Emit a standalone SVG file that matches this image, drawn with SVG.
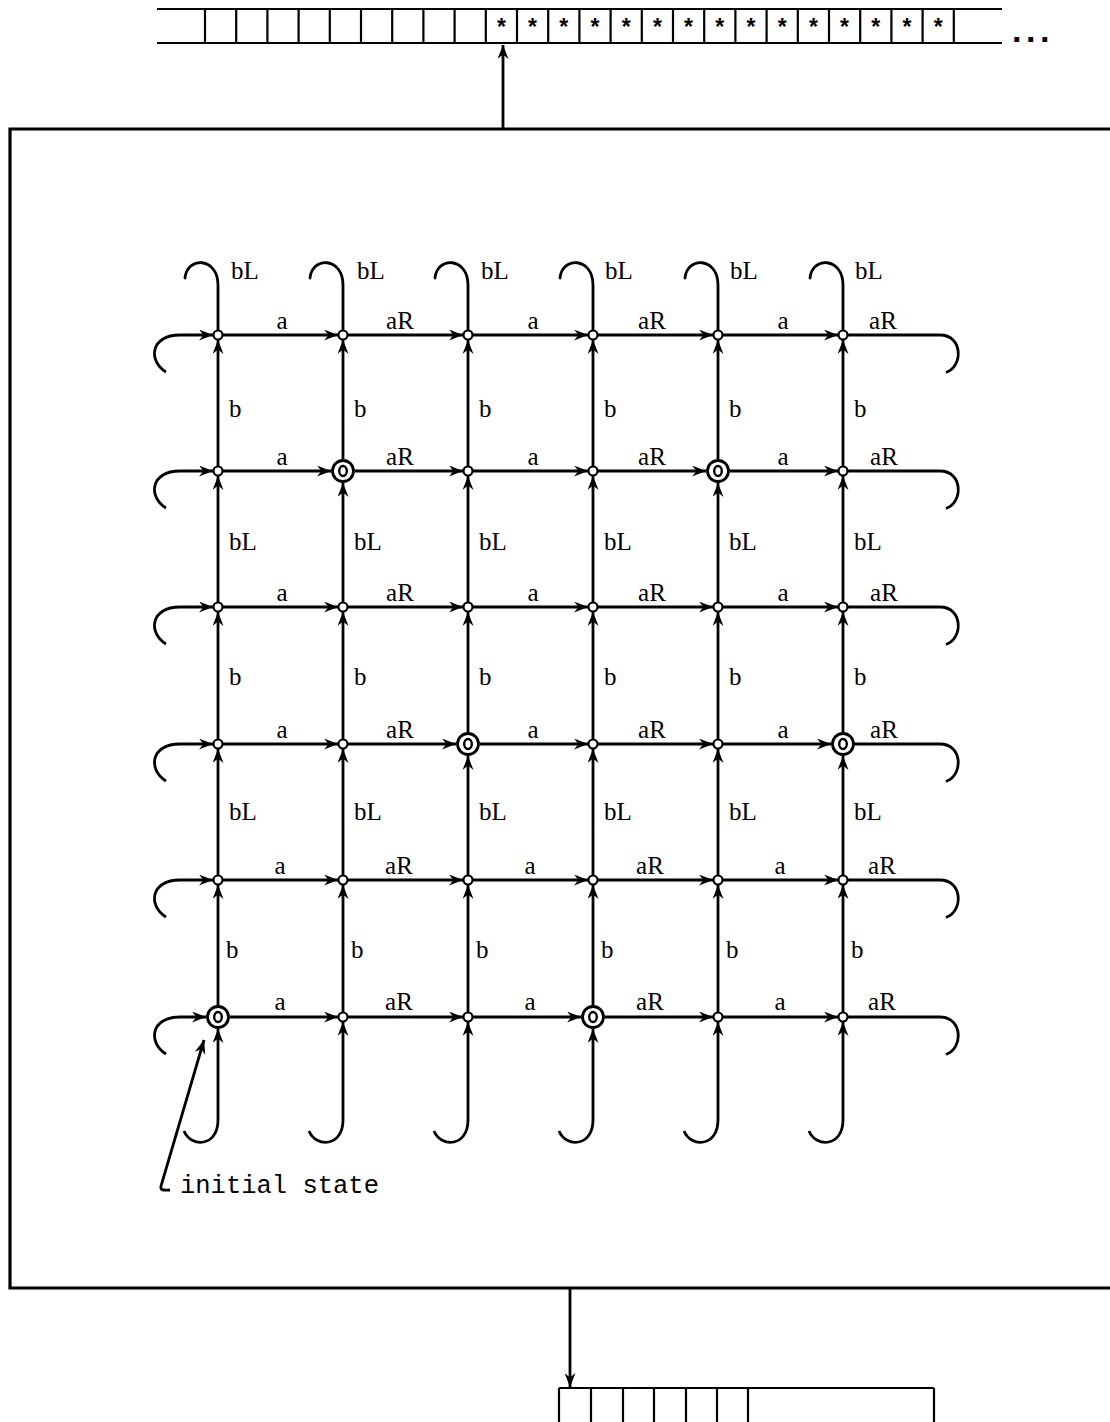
<svg xmlns="http://www.w3.org/2000/svg" width="1110" height="1422" viewBox="0 0 1110 1422">
<style>
.e{fill:none;stroke:#000;stroke-width:2.8;marker-end:url(#ah)}
.h{fill:none;stroke:#000;stroke-width:2.8;stroke-linecap:round}
.tp{fill:none;stroke:#000;stroke-width:2.2}
.n{fill:#fff;stroke:#000;stroke-width:2.2}
.d{fill:#fff;stroke:#000;stroke-width:2.8}
.di{fill:none;stroke:#000;stroke-width:2.4}
.lb{font-family:"Liberation Serif",serif;font-size:25px;fill:#000}
.st{font-family:"Liberation Sans",sans-serif;font-size:23px;font-weight:bold;fill:#000;text-anchor:middle}
.mono{font-family:"Liberation Mono",monospace;font-size:25.5px;fill:#000}
</style>
<defs>
<marker id="ah" viewBox="0 0 14 11" refX="14" refY="5.5" markerWidth="14" markerHeight="11" orient="auto" markerUnits="userSpaceOnUse">
<path d="M0,0 L14,5.5 L0,11 L4.5,5.5 z" fill="#000"/>
</marker>
</defs>

<!-- top tape -->
<g id="tape_top">
<path class="tp" d="M157,9 H1002 M157,43 H1002"/>
<path class="tp" d="M205,9V43 M236.2,9V43 M267.4,9V43 M298.6,9V43 M329.8,9V43 M361,9V43 M392.2,9V43 M423.4,9V43 M454.6,9V43 M485.8,9V43 M517,9V43 M548.2,9V43 M579.4,9V43 M610.6,9V43 M641.8,9V43 M673,9V43 M704.2,9V43 M735.4,9V43 M766.6,9V43 M797.8,9V43 M829,9V43 M860.2,9V43 M891.4,9V43 M922.6,9V43 M953.8,9V43"/>
<text class="st" x="501.4" y="35">*</text>
<text class="st" x="532.6" y="35">*</text>
<text class="st" x="563.8" y="35">*</text>
<text class="st" x="595" y="35">*</text>
<text class="st" x="626.2" y="35">*</text>
<text class="st" x="657.4" y="35">*</text>
<text class="st" x="688.6" y="35">*</text>
<text class="st" x="719.8" y="35">*</text>
<text class="st" x="751" y="35">*</text>
<text class="st" x="782.2" y="35">*</text>
<text class="st" x="813.4" y="35">*</text>
<text class="st" x="844.6" y="35">*</text>
<text class="st" x="875.8" y="35">*</text>
<text class="st" x="907" y="35">*</text>
<text class="st" x="938.2" y="35">*</text>
<text x="1012" y="42" style="font-family:'Liberation Sans',sans-serif;font-size:34px;font-weight:bold;letter-spacing:4.5px">...</text>
</g>

<!-- bottom tape -->
<g id="tape_bottom">
<path class="tp" d="M559,1388 H934 M559,1388V1422 M591,1388V1422 M623,1388V1422 M654,1388V1422 M686,1388V1422 M717,1388V1422 M748,1388V1422 M934,1388V1422"/>
</g>

<!-- control box -->
<g id="control_box">
<path d="M1110,129 H10 V1288 H1110" fill="none" stroke="#000" stroke-width="3.2"/>
</g>

<g id="connectors">
<!-- head arrows -->
<path class="e" d="M503,128 V45"/>
<path class="e" d="M570,1289 V1387"/>

<!-- horizontal edges -->
<path class="e" d="M223,335 H338"/><path class="e" d="M348,335 H463"/><path class="e" d="M473,335 H588"/><path class="e" d="M598,335 H713"/><path class="e" d="M723,335 H838"/>
<path class="e" d="M223,471 H331"/><path class="e" d="M355,471 H463"/><path class="e" d="M473,471 H588"/><path class="e" d="M598,471 H706"/><path class="e" d="M730,471 H838"/>
<path class="e" d="M223,607 H338"/><path class="e" d="M348,607 H463"/><path class="e" d="M473,607 H588"/><path class="e" d="M598,607 H713"/><path class="e" d="M723,607 H838"/>
<path class="e" d="M223,744 H338"/><path class="e" d="M348,744 H456"/><path class="e" d="M480,744 H588"/><path class="e" d="M598,744 H713"/><path class="e" d="M723,744 H831"/>
<path class="e" d="M223,880 H338"/><path class="e" d="M348,880 H463"/><path class="e" d="M473,880 H588"/><path class="e" d="M598,880 H713"/><path class="e" d="M723,880 H838"/>
<path class="e" d="M230,1017 H338"/><path class="e" d="M348,1017 H463"/><path class="e" d="M473,1017 H581"/><path class="e" d="M605,1017 H713"/><path class="e" d="M723,1017 H838"/>

<!-- left wrap hooks -->
<path class="e" d="M166,372 C148,361 150,335 180,335 H213"/>
<path class="e" d="M166,508 C148,497 150,471 180,471 H213"/>
<path class="e" d="M166,644 C148,633 150,607 180,607 H213"/>
<path class="e" d="M166,781 C148,770 150,744 180,744 H213"/>
<path class="e" d="M166,917 C148,906 150,880 180,880 H213"/>
<path class="e" d="M166,1054 C148,1043 150,1017 180,1017 H206"/>

<!-- right wrap hooks -->
<path class="h" d="M848,335 H940 C963,335 963,366 947,372"/>
<path class="h" d="M848,471 H940 C963,471 963,502 947,508"/>
<path class="h" d="M848,607 H940 C963,607 963,638 947,644"/>
<path class="h" d="M855,744 H940 C963,744 963,775 947,781"/>
<path class="h" d="M848,880 H940 C963,880 963,911 947,917"/>
<path class="h" d="M848,1017 H940 C963,1017 963,1048 947,1054"/>

<!-- vertical edges col1 -->
<path class="e" d="M218,466 V340"/><path class="e" d="M218,602 V476"/><path class="e" d="M218,739 V612"/><path class="e" d="M218,875 V749"/><path class="e" d="M218,1005 V885"/>
<!-- col2 -->
<path class="e" d="M343,459 V340"/><path class="e" d="M343,602 V483"/><path class="e" d="M343,739 V612"/><path class="e" d="M343,875 V749"/><path class="e" d="M343,1012 V885"/>
<!-- col3 -->
<path class="e" d="M468,466 V340"/><path class="e" d="M468,602 V476"/><path class="e" d="M468,732 V612"/><path class="e" d="M468,875 V756"/><path class="e" d="M468,1012 V885"/>
<!-- col4 -->
<path class="e" d="M593,466 V340"/><path class="e" d="M593,602 V476"/><path class="e" d="M593,739 V612"/><path class="e" d="M593,875 V749"/><path class="e" d="M593,1005 V885"/>
<!-- col5 -->
<path class="e" d="M718,459 V340"/><path class="e" d="M718,602 V483"/><path class="e" d="M718,739 V612"/><path class="e" d="M718,875 V749"/><path class="e" d="M718,1012 V885"/>
<!-- col6 -->
<path class="e" d="M843,466 V340"/><path class="e" d="M843,602 V476"/><path class="e" d="M843,732 V612"/><path class="e" d="M843,875 V756"/><path class="e" d="M843,1012 V885"/>

<!-- top wrap hooks -->
<path class="h" d="M218,330 V285 C218,257 187,256 185,278"/>
<path class="h" d="M343,330 V285 C343,257 312,256 310,278"/>
<path class="h" d="M468,330 V285 C468,257 437,256 435,278"/>
<path class="h" d="M593,330 V285 C593,257 562,256 560,278"/>
<path class="h" d="M718,330 V285 C718,257 687,256 685,278"/>
<path class="h" d="M843,330 V285 C843,257 812,256 810,278"/>

<!-- bottom wrap hooks -->
<path class="e" d="M184,1131 C191,1148 218,1147 218,1120 V1029"/>
<path class="e" d="M309,1131 C316,1148 343,1147 343,1120 V1022"/>
<path class="e" d="M434,1131 C441,1148 468,1147 468,1120 V1022"/>
<path class="e" d="M559,1131 C566,1148 593,1147 593,1120 V1029"/>
<path class="e" d="M684,1131 C691,1148 718,1147 718,1120 V1022"/>
<path class="e" d="M809,1131 C816,1148 843,1147 843,1120 V1022"/>

<!-- initial state pointer -->
<path class="e" d="M170,1190 C164,1190 160,1191 161,1186 L204,1040"/>
</g>

<!-- nodes -->
<g id="n_1_1"><circle class="n" cx="218" cy="335" r="4.5"/></g>
<g id="n_1_2"><circle class="n" cx="343" cy="335" r="4.5"/></g>
<g id="n_1_3"><circle class="n" cx="468" cy="335" r="4.5"/></g>
<g id="n_1_4"><circle class="n" cx="593" cy="335" r="4.5"/></g>
<g id="n_1_5"><circle class="n" cx="718" cy="335" r="4.5"/></g>
<g id="n_1_6"><circle class="n" cx="843" cy="335" r="4.5"/></g>

<g id="n_2_1"><circle class="n" cx="218" cy="471" r="4.5"/></g>
<g id="n_2_2"><circle class="d" cx="343" cy="471" r="10.5"/><ellipse class="di" cx="343" cy="471" rx="3.8" ry="5"/></g>
<g id="n_2_3"><circle class="n" cx="468" cy="471" r="4.5"/></g>
<g id="n_2_4"><circle class="n" cx="593" cy="471" r="4.5"/></g>
<g id="n_2_5"><circle class="d" cx="718" cy="471" r="10.5"/><ellipse class="di" cx="718" cy="471" rx="3.8" ry="5"/></g>
<g id="n_2_6"><circle class="n" cx="843" cy="471" r="4.5"/></g>

<g id="n_3_1"><circle class="n" cx="218" cy="607" r="4.5"/></g>
<g id="n_3_2"><circle class="n" cx="343" cy="607" r="4.5"/></g>
<g id="n_3_3"><circle class="n" cx="468" cy="607" r="4.5"/></g>
<g id="n_3_4"><circle class="n" cx="593" cy="607" r="4.5"/></g>
<g id="n_3_5"><circle class="n" cx="718" cy="607" r="4.5"/></g>
<g id="n_3_6"><circle class="n" cx="843" cy="607" r="4.5"/></g>

<g id="n_4_1"><circle class="n" cx="218" cy="744" r="4.5"/></g>
<g id="n_4_2"><circle class="n" cx="343" cy="744" r="4.5"/></g>
<g id="n_4_3"><circle class="d" cx="468" cy="744" r="10.5"/><ellipse class="di" cx="468" cy="744" rx="3.8" ry="5"/></g>
<g id="n_4_4"><circle class="n" cx="593" cy="744" r="4.5"/></g>
<g id="n_4_5"><circle class="n" cx="718" cy="744" r="4.5"/></g>
<g id="n_4_6"><circle class="d" cx="843" cy="744" r="10.5"/><ellipse class="di" cx="843" cy="744" rx="3.8" ry="5"/></g>

<g id="n_5_1"><circle class="n" cx="218" cy="880" r="4.5"/></g>
<g id="n_5_2"><circle class="n" cx="343" cy="880" r="4.5"/></g>
<g id="n_5_3"><circle class="n" cx="468" cy="880" r="4.5"/></g>
<g id="n_5_4"><circle class="n" cx="593" cy="880" r="4.5"/></g>
<g id="n_5_5"><circle class="n" cx="718" cy="880" r="4.5"/></g>
<g id="n_5_6"><circle class="n" cx="843" cy="880" r="4.5"/></g>

<g id="n_6_1"><circle class="d" cx="218" cy="1017" r="10.5"/><ellipse class="di" cx="218" cy="1017" rx="3.8" ry="5"/></g>
<g id="n_6_2"><circle class="n" cx="343" cy="1017" r="4.5"/></g>
<g id="n_6_3"><circle class="n" cx="468" cy="1017" r="4.5"/></g>
<g id="n_6_4"><circle class="d" cx="593" cy="1017" r="10.5"/><ellipse class="di" cx="593" cy="1017" rx="3.8" ry="5"/></g>
<g id="n_6_5"><circle class="n" cx="718" cy="1017" r="4.5"/></g>
<g id="n_6_6"><circle class="n" cx="843" cy="1017" r="4.5"/></g>

<!-- labels -->
<g id="labels" class="lb">
<g text-anchor="middle">
<text x="282" y="329">a</text><text x="400" y="329">aR</text><text x="533" y="329">a</text><text x="652" y="329">aR</text><text x="783" y="329">a</text><text x="883" y="329">aR</text>
<text x="282" y="465">a</text><text x="400" y="465">aR</text><text x="533" y="465">a</text><text x="652" y="465">aR</text><text x="783" y="465">a</text><text x="884" y="465">aR</text>
<text x="282" y="601">a</text><text x="400" y="601">aR</text><text x="533" y="601">a</text><text x="652" y="601">aR</text><text x="783" y="601">a</text><text x="884" y="601">aR</text>
<text x="282" y="738">a</text><text x="400" y="738">aR</text><text x="533" y="738">a</text><text x="652" y="738">aR</text><text x="783" y="738">a</text><text x="884" y="738">aR</text>
<text x="280" y="874">a</text><text x="399" y="874">aR</text><text x="530" y="874">a</text><text x="650" y="874">aR</text><text x="780" y="874">a</text><text x="882" y="874">aR</text>
<text x="280" y="1010">a</text><text x="399" y="1010">aR</text><text x="530" y="1010">a</text><text x="650" y="1010">aR</text><text x="780" y="1010">a</text><text x="882" y="1010">aR</text>
</g>
<text x="231" y="279">bL</text><text x="357" y="279">bL</text><text x="481" y="279">bL</text><text x="605" y="279">bL</text><text x="730" y="279">bL</text><text x="855" y="279">bL</text>
<text x="229" y="417">b</text><text x="354" y="417">b</text><text x="479" y="417">b</text><text x="604" y="417">b</text><text x="729" y="417">b</text><text x="854" y="417">b</text>
<text x="229" y="550">bL</text><text x="354" y="550">bL</text><text x="479" y="550">bL</text><text x="604" y="550">bL</text><text x="729" y="550">bL</text><text x="854" y="550">bL</text>
<text x="229" y="685">b</text><text x="354" y="685">b</text><text x="479" y="685">b</text><text x="604" y="685">b</text><text x="729" y="685">b</text><text x="854" y="685">b</text>
<text x="229" y="820">bL</text><text x="354" y="820">bL</text><text x="479" y="820">bL</text><text x="604" y="820">bL</text><text x="729" y="820">bL</text><text x="854" y="820">bL</text>
<text x="226" y="958">b</text><text x="351" y="958">b</text><text x="476" y="958">b</text><text x="601" y="958">b</text><text x="726" y="958">b</text><text x="851" y="958">b</text>
</g>
<text class="mono" x="180" y="1193">initial state</text>
</svg>
